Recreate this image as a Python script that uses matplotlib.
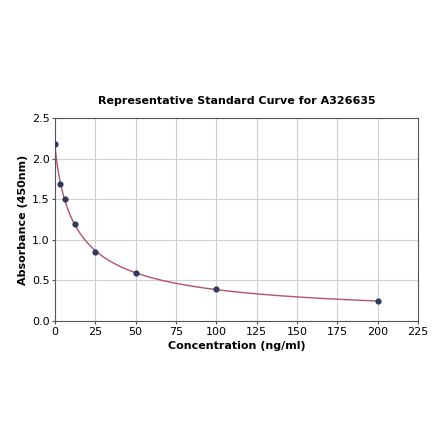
import numpy as np
import matplotlib
matplotlib.use("Agg")
import matplotlib.pyplot as plt

conc = [0, 3.125, 6.25, 12.5, 25, 50, 100, 200]
absorb = [2.18, 1.69, 1.51, 1.19, 0.85, 0.59, 0.39, 0.25]
xticks = [0, 25, 50, 75, 100, 125, 150, 175, 200, 225]
yticks = [0.0, 0.5, 1.0, 1.5, 2.0, 2.5]

x = np.array(conc, float)
y = np.array(absorb, float)

def model(p, xx):
    a, b, c, d = p
    return d + (a - d) / (1 + (np.abs(xx) / c) ** b)

# 4PL fit via Levenberg-Marquardt
p = np.array([2.2, 0.8, 15.0, 0.0])
lam = 1e-2
for _ in range(500):
    r = y - model(p, x)
    J = np.zeros((len(x), 4))
    for i in range(4):
        dp = np.zeros(4); dp[i] = 1e-6 * max(1, abs(p[i]))
        J[:, i] = (model(p + dp, x) - model(p, x)) / dp[i]
    A = J.T @ J
    g = J.T @ r
    step = np.linalg.solve(A + lam * np.diag(np.diag(A)), g)
    pn = p + step
    if pn[2] > 0 and np.sum((y - model(pn, x)) ** 2) < np.sum(r ** 2):
        p = pn; lam *= 0.5
    else:
        lam *= 4

fig = plt.figure(figsize=(4.4, 4.41), dpi=100)
ax = fig.add_axes([0.125, 0.272, 0.825, 0.46])
xs = np.linspace(0, 200, 600)
ax.plot(xs, model(p, xs), color="#b5506e", lw=1.0, zorder=2)
ax.scatter(x, y, s=12, color="#2f3b5e", zorder=3)
ax.set_xlim(0, 225)
ax.set_ylim(0, 2.5)
ax.set_xticks(xticks)
ax.set_yticks(yticks)
ax.set_yticklabels([f"{v:.1f}" for v in yticks])
ax.grid(True, color="#d0d0d0", lw=0.8)
ax.set_axisbelow(True)
for s in ax.spines.values():
    s.set_color("#555555")
ax.tick_params(labelsize=8, length=2, pad=2, color="#555555")
ax.set_xlabel("Concentration (ng/ml)", fontsize=8, fontweight="bold", labelpad=3)
ax.set_ylabel("Absorbance (450nm)", fontsize=8, fontweight="bold", labelpad=3)
ax.set_title("Representative Standard Curve for A326635", fontsize=8, fontweight="bold", pad=10)
fig.savefig("out.png", dpi=100)
